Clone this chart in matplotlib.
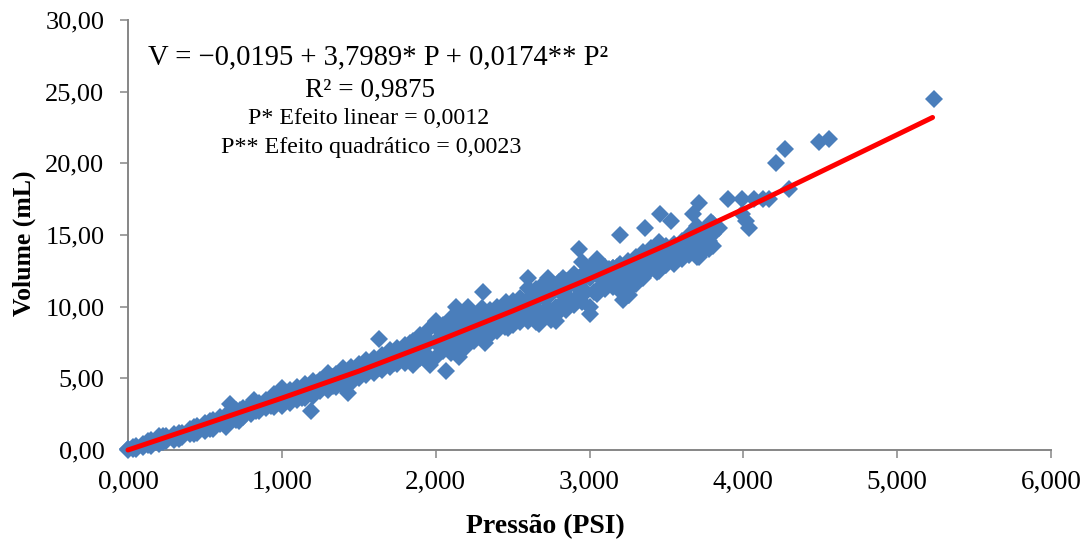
import matplotlib
matplotlib.use("Agg")
import matplotlib.pyplot as plt

plt.rcParams['font.family'] = ['Liberation Serif', 'DejaVu Serif']

# nuvem densa: para cada pressao, um valor alto, medio e baixo
pressao_nuvem = [0.00, 0.05, 0.10, 0.15, 0.20, 0.25, 0.30, 0.35, 0.40, 0.45,
                 0.50, 0.55, 0.60, 0.65, 0.70, 0.75, 0.80, 0.85, 0.90, 0.95,
                 1.00, 1.05, 1.10, 1.15, 1.20, 1.25, 1.30, 1.35, 1.40, 1.45,
                 1.50, 1.55, 1.60, 1.65, 1.70, 1.75, 1.80, 1.85, 1.90, 1.95,
                 2.00, 2.05, 2.10, 2.15, 2.20, 2.25, 2.30, 2.35, 2.40, 2.45,
                 2.50, 2.55, 2.60, 2.65, 2.70, 2.75, 2.80, 2.85, 2.90, 2.95,
                 3.00, 3.05, 3.10, 3.15, 3.20, 3.25, 3.30, 3.35, 3.40, 3.45,
                 3.50, 3.55, 3.60, 3.65, 3.70, 3.75, 3.80]
volume_alto = [0.10, 0.30, 0.40, 0.70, 0.90, 1.00, 1.10, 1.20, 1.50, 1.70,
               1.90, 2.10, 2.30, 2.50, 2.80, 2.90, 3.20, 3.30, 3.50, 3.90,
               4.10, 4.20, 4.40, 4.60, 4.80, 4.90, 5.00, 5.30, 5.70, 5.80,
               6.00, 6.30, 6.40, 6.60, 7.00, 7.10, 7.30, 7.60, 8.00, 8.40,
               8.90, 8.70, 9.20, 9.40, 9.50, 9.30, 9.90, 9.80, 10.00, 10.20,
               10.40, 10.60, 11.30, 11.20, 11.60, 11.50, 11.70, 11.80, 12.30, 13.10,
               12.80, 12.90, 12.80, 12.70, 13.00, 13.20, 13.50, 13.80, 14.10, 14.40,
               14.20, 14.00, 14.40, 15.00, 15.60, 15.40, 15.80]
volume_medio = [0.05, 0.15, 0.30, 0.50, 0.70, 0.85, 1.00, 1.15, 1.30, 1.50,
                1.70, 1.90, 2.00, 2.20, 2.50, 2.70, 2.90, 3.00, 3.20, 3.40,
                3.60, 3.80, 3.90, 4.10, 4.30, 4.50, 4.70, 4.90, 5.10, 5.30,
                5.50, 5.70, 5.90, 6.10, 6.30, 6.50, 6.70, 6.90, 7.20, 7.40,
                7.60, 7.80, 8.00, 8.30, 8.50, 8.80, 9.00, 9.20, 9.40, 9.60,
                9.70, 9.90, 10.20, 10.40, 10.70, 10.90, 11.10, 11.30, 11.60, 11.80,
                12.00, 12.20, 12.40, 12.70, 12.50, 12.20, 12.60, 13.20, 13.60, 13.80,
                14.10, 14.40, 14.60, 14.80, 15.10, 14.80, 15.10]
volume_baixo = [0.00, 0.05, 0.20, 0.30, 0.45, 0.60, 0.70, 0.90, 1.10, 1.20,
                1.30, 1.50, 1.80, 1.90, 2.10, 2.30, 2.50, 2.70, 2.90, 3.00,
                3.10, 3.30, 3.50, 3.60, 3.80, 4.10, 4.20, 4.40, 4.50, 4.70,
                5.00, 5.20, 5.40, 5.60, 5.80, 6.00, 6.10, 6.20, 6.40, 6.30,
                6.50, 6.90, 6.80, 7.10, 7.20, 7.60, 7.90, 8.00, 8.30, 8.60,
                8.70, 8.90, 9.00, 8.90, 9.30, 9.10, 9.60, 9.80, 10.10, 10.30,
                10.00, 10.90, 11.20, 11.40, 11.10, 10.80, 11.60, 12.00, 12.60, 12.50,
                12.90, 13.00, 13.30, 13.60, 13.70, 14.00, 14.20]

# colunas intermediarias da nuvem
pressao_meio = [0.03, 0.13, 0.23, 0.33, 0.43, 0.53, 0.63, 0.73, 0.83, 0.93,
                1.03, 1.13, 1.23, 1.33, 1.43, 1.53, 1.63, 1.73, 1.83, 1.93,
                2.03, 2.08, 2.13, 2.18, 2.23, 2.28, 2.33, 2.38, 2.43, 2.48,
                2.53, 2.58, 2.63, 2.68, 2.73, 2.78, 2.83, 2.88, 2.93, 2.98,
                3.03, 3.08, 3.13, 3.18, 3.23, 3.28, 3.33, 3.38, 3.43, 3.48,
                3.53, 3.58, 3.63, 3.68, 3.73, 3.78]
volume_sup = [0.20, 0.60, 0.95, 1.20, 1.60, 2.00, 2.40, 2.80, 3.15, 3.60,
              4.00, 4.30, 4.70, 5.10, 5.50, 5.95, 6.30, 6.80, 7.30, 7.90,
              8.30, 8.40, 8.70, 8.90, 9.10, 9.10, 9.50, 9.60, 9.80, 9.90,
              10.10, 10.30, 10.80, 10.80, 11.20, 11.20, 11.40, 11.60, 12.00, 12.50,
              12.40, 12.60, 12.60, 12.80, 12.80, 12.90, 13.10, 13.50, 13.80, 14.10,
              14.10, 14.20, 14.50, 14.90, 15.30, 15.10]
volume_inf = [0.05, 0.35, 0.55, 0.80, 1.15, 1.50, 1.90, 2.35, 2.75, 3.10,
              3.40, 3.65, 4.25, 4.50, 4.80, 5.35, 5.70, 6.10, 6.50, 6.80,
              7.20, 7.30, 7.40, 7.60, 7.90, 8.20, 8.40, 8.70, 8.90, 9.00,
              9.20, 9.40, 9.60, 9.60, 9.90, 10.00, 10.30, 10.50, 10.80, 11.00,
              11.00, 11.50, 11.80, 12.00, 11.70, 11.50, 12.10, 12.60, 13.00, 13.10,
              13.40, 13.60, 13.90, 14.20, 14.40, 14.60]

# pontos isolados que se distinguem na figura
pressao_fora = [5.24, 4.56, 4.49, 4.27, 4.21, 4.30, 4.17, 4.13, 4.07, 3.99,
                3.90, 4.04, 4.02, 3.99, 3.71, 3.67, 3.53, 3.46, 3.79, 3.84,
                3.71, 3.78, 3.49, 3.20, 3.36, 3.45, 2.93, 3.05, 2.60, 2.73,
                2.83, 2.31, 2.13, 2.21, 2.00, 2.46, 1.83, 2.07, 2.15, 2.32,
                2.47, 2.67, 2.78, 3.00, 3.22, 3.26, 3.44, 3.70, 1.96, 1.85,
                1.63, 1.19, 1.43, 1.30, 0.66, 0.82, 1.00, 0.20, 0.72, 0.64]
volume_fora = [24.50, 21.70, 21.50, 21.00, 20.00, 18.20, 17.50, 17.50, 17.50, 17.50,
               17.50, 15.50, 16.00, 16.50, 17.20, 16.50, 16.00, 16.50, 15.90, 15.50,
               13.50, 14.00, 12.90, 15.00, 15.50, 14.50, 14.00, 13.30, 12.00, 12.00,
               12.00, 11.00, 10.00, 10.00, 9.00, 10.30, 7.50, 5.50, 6.50, 7.50,
               8.50, 8.80, 9.00, 9.50, 10.50, 10.80, 12.40, 13.50, 5.90, 5.90,
               7.75, 2.70, 4.00, 5.40, 3.20, 3.50, 4.30, 1.00, 2.00, 1.60]

# curva vermelha
pressao_curva = [0.00, 0.50, 1.00, 1.50, 2.00, 2.50, 3.00, 3.50, 4.00, 4.50, 5.00, 5.23]
volume_curva = [0.00, 1.80, 3.62, 5.50, 7.55, 9.70, 11.95, 14.30, 16.80, 19.40, 22.00, 23.20]

x_ticks = [0, 1, 2, 3, 4, 5, 6]
x_labels = ['0,000', '1,000', '2,000', '3,000', '4,000', '5,000', '6,000']
y_ticks = [0, 5, 10, 15, 20, 25, 30]
y_labels = ['0,00', '5,00', '10,00', '15,00', '20,00', '25,00', '30,00']

fig = plt.figure(figsize=(10.87, 5.41), dpi=100)
ax = fig.add_axes([128 / 1087, 1 - 450 / 541, (1051 - 128) / 1087, 430 / 541])

azul = '#4A7EBB'
for vol in (volume_alto, volume_baixo, volume_medio):
    ax.plot(pressao_nuvem, vol, 'D', color=azul, ms=9.6, mew=0, clip_on=False, zorder=3)
for vol in (volume_sup, volume_inf):
    ax.plot(pressao_meio, vol, 'D', color=azul, ms=9.6, mew=0, clip_on=False, zorder=3)
ax.plot(pressao_fora, volume_fora, 'D', color=azul, ms=9.6, mew=0, clip_on=False, zorder=3)
ax.plot(pressao_curva, volume_curva, '-', color='#FF0000', lw=3.6,
        solid_capstyle='round', clip_on=False, zorder=4)

ax.set_xlim(0, 6)
ax.set_ylim(0, 30)
ax.set_xticks(x_ticks)
ax.set_xticklabels(x_labels)
ax.set_yticks(y_ticks)
ax.set_yticklabels(y_labels)
ax.tick_params(axis='x', labelsize=19.5, length=6, width=1.1, color='#868686', pad=8)
ax.tick_params(axis='y', labelsize=19, length=6, width=1.1, color='#868686', pad=11)
for lado in ('top', 'right'):
    ax.spines[lado].set_visible(False)
for lado in ('left', 'bottom'):
    ax.spines[lado].set_color('#868686')
    ax.spines[lado].set_linewidth(1.4)

fig.text(545 / 1087, 1 - 527 / 541, 'Pressão (PSI)', fontsize=20, fontweight='bold',
         ha='center', va='center')
fig.text(24 / 1087, 1 - 243 / 541, 'Volume (mL)', fontsize=18.5, fontweight='bold',
         rotation=90, ha='center', va='center')

fig.text(378 / 1087, 1 - 57 / 541, 'V = \u22120,0195 + 3,7989* P + 0,0174** P²', fontsize=20.6,
         ha='center', va='center')
fig.text(370 / 1087, 1 - 90 / 541, 'R² = 0,9875', fontsize=19.6, ha='center', va='center')
fig.text(369 / 1087, 1 - 119 / 541, 'P* Efeito linear = 0,0012', fontsize=17.2, ha='center', va='center')
fig.text(371 / 1087, 1 - 147 / 541, 'P** Efeito quadrático = 0,0023', fontsize=17.3, ha='center', va='center')

fig.savefig('out.png', dpi=100)
